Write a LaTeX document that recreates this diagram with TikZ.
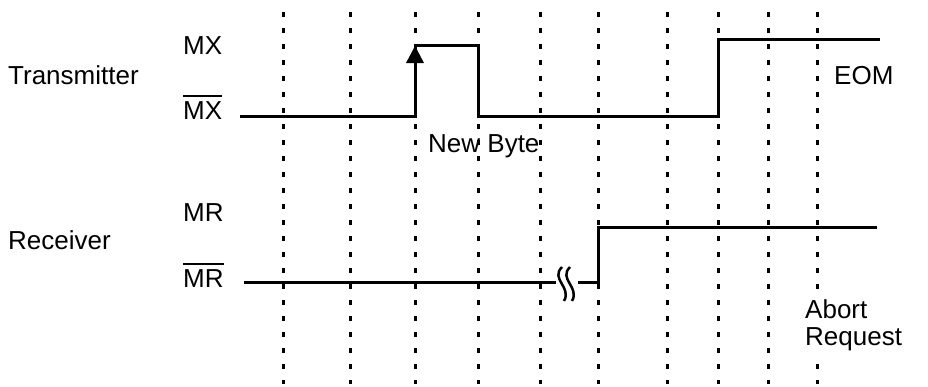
\documentclass[tikz,border=0pt]{standalone}
\usepackage{fontspec}
\setmainfont{Liberation Sans}
\newcommand\myobar[1]{\leavevmode\vbox{\hrule height 2.4pt\kern 4pt\hbox{#1}}}
\begin{document}
\begin{tikzpicture}[x=1pt,y=-1pt,
  grid/.style={line width=3pt,dash pattern=on 4.5pt off 11.5pt},
  sig/.style={line width=3pt},
  lbl/.style={inner sep=0pt,anchor=base west,font=\fontsize{26}{27}\selectfont}]
\useasboundingbox (0,0) rectangle (928,386);
% dotted time grid
\foreach \gx in {283,350,415,478,540,598,667,718,768,817}
  \draw[grid] (\gx,12) -- (\gx,384);
% labels
\node[lbl] (tx) at (8,84) {Transmitter};
\node[lbl] (mx) at (183,54) {MX};
\node[lbl] (mxb) at (183,119) {\myobar{MX}};
\node[lbl] (eom) at (834,84) {EOM};
\node[lbl] (nb) at (428,152) {New Byte};
\node[lbl] (rx) at (8,249) {Receiver};
\node[lbl] (mr) at (183,221) {MR};
\node[lbl] (mrb) at (183,287) {\myobar{MR}};
\node[lbl,fill=white,inner sep=4pt,align=left] (ab) at (801,345) {Abort\\Request};
% transmitter signal
\draw[sig] (240,116) -- (415,116) -- (415,45) -- (478,45) -- (478,116) -- (718,116) -- (718,39) -- (880,39);
\fill (415,46) -- (424,63) -- (406,63) -- cycle;
% receiver signal
\draw[sig] (244,282) -- (556,282);
\draw[sig] (578,282) -- (598,282) -- (598,227) -- (877,227);
\draw[line width=2.5pt] (562,267) .. controls (550,279) and (572,287) .. (564,301);
\draw[line width=2.5pt] (570,267) .. controls (558,279) and (580,287) .. (572,301);
\end{tikzpicture}
\end{document}
